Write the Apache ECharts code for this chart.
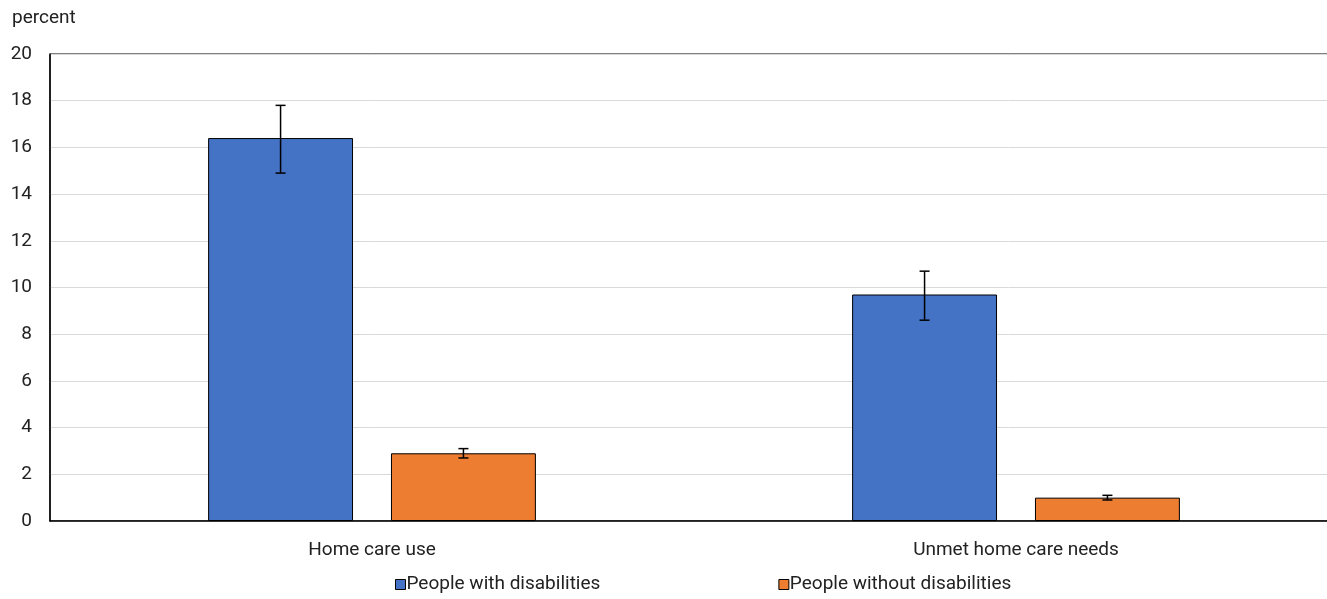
<!DOCTYPE html>
<html>
<head>
<meta charset="utf-8">
<script src="https://cdn.jsdelivr.net/npm/echarts@6/dist/echarts.min.js"></script>
<style>
  html, body { margin: 0; padding: 0; background: #fff; overflow: hidden; }
  #chart { width: 1327px; height: 599px; }
</style>
</head>
<body>
<div id="chart"></div>
<script>
const categories = ['Home care use', 'Unmet home care needs'];
const seriesNames = ['People with disabilities', 'People without disabilities'];
const withDisab = [16.4, 9.7];
const withLow = [14.9, 8.6];
const withHigh = [17.8, 10.7];
const withoutDisab = [2.9, 1.0];
const withoutLow = [2.7, 0.9];
const withoutHigh = [3.1, 1.1];
const colors = ['#4472c4', '#ed7d31'];

const BAR_FRAC = 0.225;  // bar width as share of category band
const GAP_FRAC = 0.262;  // gap as share of bar width
const FONT = 'Roboto, sans-serif';

function errorSeries(low, high, side) {
  return {
    type: 'custom',
    z: 10,
    silent: true,
    data: low.map((v, i) => [i, v, high[i]]),
    renderItem: (params, api) => {
      const band = api.size([1, 0])[0];
      const bw = band * BAR_FRAC;
      const off = side * (bw + bw * GAP_FRAC) / 2;
      const lo = api.coord([api.value(0), api.value(1)]);
      const hi = api.coord([api.value(0), api.value(2)]);
      const x = lo[0] + off;
      const cap = 5;
      const style = { stroke: '#000', lineWidth: 1.5 };
      return {
        type: 'group',
        children: [
          { type: 'line', shape: { x1: x, y1: lo[1], x2: x, y2: hi[1] }, style },
          { type: 'line', shape: { x1: x - cap, y1: lo[1], x2: x + cap, y2: lo[1] }, style },
          { type: 'line', shape: { x1: x - cap, y1: hi[1], x2: x + cap, y2: hi[1] }, style }
        ]
      };
    }
  };
}

const chart = echarts.init(document.getElementById('chart'));
chart.setOption({
  animation: false,
  textStyle: { fontFamily: FONT, color: '#222' },
  grid: {
    left: 50, width: 1288, top: 54, bottom: 78,
    outerBoundsMode: 'none', containLabel: false,
    show: true, borderColor: '#000', borderWidth: 1
  },
  legend: {
    data: seriesNames,
    bottom: 0,
    left: 390,
    itemGap: 178,
    itemWidth: 10,
    itemHeight: 10,
    icon: 'rect',
    itemStyle: { borderColor: '#000', borderWidth: 1 },
    textStyle: { fontFamily: FONT, fontSize: 19, color: '#222', padding: [0, 0, 0, -4] }
  },
  xAxis: {
    type: 'category',
    data: categories,
    axisLine: { lineStyle: { color: '#000', width: 1.5 } },
    axisTick: { show: false },
    axisLabel: { fontFamily: FONT, fontSize: 19, color: '#222', margin: 20 }
  },
  yAxis: {
    type: 'value',
    min: 0,
    max: 20,
    interval: 2,
    name: 'percent',
    nameLocation: 'end',
    nameGap: 26,
    nameTextStyle: { fontFamily: FONT, fontSize: 19, color: '#222', align: 'left', padding: [0, 0, 0, -38] },
    axisLine: { show: true, lineStyle: { color: '#000', width: 1.5 } },
    axisTick: { show: false },
    axisLabel: { fontFamily: FONT, fontSize: 19, color: '#222', margin: 18 },
    splitLine: { lineStyle: { color: '#d9d9d9', width: 1 } }
  },
  series: [
    {
      name: seriesNames[0],
      type: 'bar',
      data: withDisab,
      barWidth: (BAR_FRAC * 100) + '%',
      barGap: (GAP_FRAC * 100) + '%',
      itemStyle: { color: colors[0], borderColor: '#000', borderWidth: 1 }
    },
    {
      name: seriesNames[1],
      type: 'bar',
      data: withoutDisab,
      barWidth: (BAR_FRAC * 100) + '%',
      barGap: (GAP_FRAC * 100) + '%',
      itemStyle: { color: colors[1], borderColor: '#000', borderWidth: 1 }
    },
    errorSeries(withLow, withHigh, -1),
    errorSeries(withoutLow, withoutHigh, 1)
  ]
});
</script>
</body>
</html>
